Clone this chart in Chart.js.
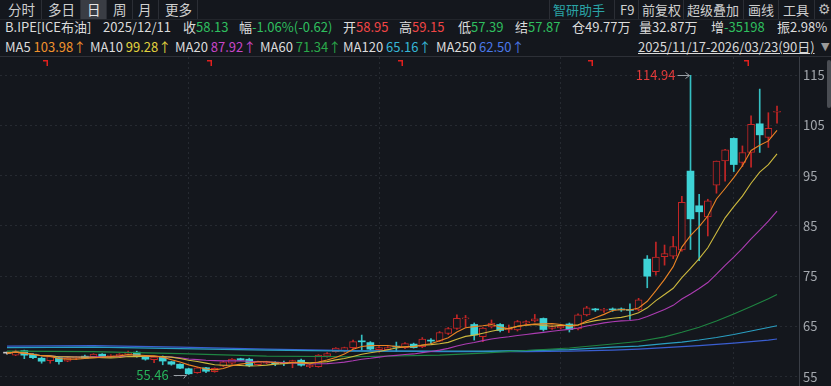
<!DOCTYPE html>
<html><head><meta charset="utf-8">
<script src="https://cdn.jsdelivr.net/npm/chart.js@4.4.1/dist/chart.umd.min.js"></script>
<style>
html,body{margin:0;padding:0;background:#14171d;width:831px;height:386px;overflow:hidden;font-family:"Noto Sans CJK SC","Noto Sans",sans-serif;color:#dcdcdc;}
.a{position:absolute;white-space:nowrap;}
#bar1{position:absolute;left:0;top:0;width:831px;height:19px;border-bottom:1px solid #22252b;}
.tab{position:absolute;top:0;height:19px;line-height:19px;font-size:13.5px;color:#cfcfcf;}
.sep{position:absolute;top:0;width:1px;height:19px;background:#2b2e35;}
.r2{position:absolute;top:18px;height:18px;line-height:18px;font-size:13px;white-space:nowrap;color:#dcdcdc;}
.r3{position:absolute;top:38px;height:18px;line-height:18px;font-size:13px;white-space:nowrap;color:#dcdcdc;}
.g{color:#2fbf5f}.rd{color:#f04545}
#wrap{position:absolute;left:0;top:57px;width:831px;height:329px;}
#topline{position:absolute;left:0;top:56px;width:831px;height:1px;background:#2d3037;}
#scroll{position:absolute;left:827px;top:60px;width:4px;height:48px;background:#4a4d53;border-radius:2px;}
</style></head>
<body>
<div id="bar1">
  <span class="tab" style="left:8px">分时</span>
  <div class="sep" style="left:41px"></div>
  <span class="tab" style="left:48px">多日</span>
  <div class="sep" style="left:80px"></div>
  <div style="position:absolute;left:81px;top:0;width:25px;height:19px;background:#3a3d44"></div>
  <span class="tab" style="left:87px;color:#e6e6e6">日</span>
  <div class="sep" style="left:106px"></div>
  <span class="tab" style="left:113px">周</span>
  <div class="sep" style="left:132px"></div>
  <span class="tab" style="left:138px">月</span>
  <div class="sep" style="left:158px"></div>
  <span class="tab" style="left:165px">更多</span>
  <div class="sep" style="left:197px"></div>
  <div class="sep" style="left:549px"></div>
  <span class="tab" style="left:553px;color:#2aa3a6;font-size:13px">智研助手</span>
  <div class="sep" style="left:614px"></div>
  <span class="tab" style="left:620px;font-size:13px">F9</span>
  <div class="sep" style="left:638px"></div>
  <span class="tab" style="left:642px;font-size:13px">前复权</span>
  <div class="sep" style="left:683px"></div>
  <span class="tab" style="left:687px;font-size:13px">超级叠加</span>
  <div class="sep" style="left:743px"></div>
  <span class="tab" style="left:748px;font-size:13px">画线</span>
  <div class="sep" style="left:778px"></div>
  <span class="tab" style="left:783px;font-size:13px">工具</span>
  <div class="sep" style="left:814px"></div>
  <span class="tab" style="left:818px;font-family:'DejaVu Sans';font-size:14px;color:#bbb">⚙</span>
</div>

<span class="r2" style="left:5px">B.IPE[ICE布油]</span>
<span class="r2" style="left:103px">2025/12/11</span>
<span class="r2" style="left:183px">收<span class="g">58.13</span></span>
<span class="r2" style="left:239px">幅<span class="g">-1.06%(-0.62)</span></span>
<span class="r2" style="left:343px">开<span class="rd">58.95</span></span>
<span class="r2" style="left:399px">高<span class="rd">59.15</span></span>
<span class="r2" style="left:458px">低<span class="g">57.39</span></span>
<span class="r2" style="left:515px">结<span class="g">57.87</span></span>
<span class="r2" style="left:572px">仓49.77万</span>
<span class="r2" style="left:639px">量32.87万</span>
<span class="r2" style="left:711px">增<span class="g">-35198</span></span>
<span class="r2" style="left:777px">振2.98%</span>

<span class="r3" style="left:5px">MA5 <span style="color:#f0922d">103.98↑</span></span>
<span class="r3" style="left:90px">MA10 <span style="color:#e2d23e">99.28↑</span></span>
<span class="r3" style="left:175px">MA20 <span style="color:#c846c8">87.92↑</span></span>
<span class="r3" style="left:260px">MA60 <span style="color:#2aa84a">71.34↑</span></span>
<span class="r3" style="left:343px">MA120 <span style="color:#36b6d6">65.16↑</span></span>
<span class="r3" style="left:436px">MA250 <span style="color:#4a78e8">62.50↑</span></span>
<span class="r3" style="left:638px;text-decoration:underline;color:#d8d8d8">2025/11/17-2026/03/23(90日)</span>
<span class="r3" style="left:821px;color:#9a9a9a;font-size:11px;font-family:'DejaVu Sans'">▼</span>

<div id="topline"></div>
<div id="wrap"><canvas id="c" width="831" height="329"></canvas></div>
<div id="scroll"></div>

<script>
// ---- data ----
const opens = [59.7,59.3,60.2,59.5,58.7,58.2,58.8,58.1,58.7,59.1, 59.0,59.5,59.0,59.1,59.5,59.9,58.9,58.4,58.95,58.0, 57.5,56.6,55.8,56.8,56.0,57.1,57.7,58.6,58.5,57.4, 57.7,57.9,57.8,57.7,58.3,57.0,57.0,59.1,60.0,60.1, 60.8,62.0,61.8,60.4,60.4,60.95,60.8,61.5,61.0,62.3, 62.1,63.6,64.6,66.5,65.4,63.0,64.9,65.4,64.3,64.3, 65.7,66.1,66.6,64.6,64.7,65.5,64.5,67.3,68.4,68.2, 68.4,68.4,68.3,68.3,78.4,75.9,78.9,79.0,80.2,95.9, 89.0,86.8,93.1,97.9,102.4,97.6,99.6,105.3,102.6,107.6];
const highs = [59.9,60.3,60.3,59.6,58.9,59.1,58.9,58.8,59.0,59.3, 59.6,59.6,59.4,59.6,60.1,60.1,59.0,59.0,59.15,58.1, 57.6,56.7,56.9,56.9,56.8,58.1,58.6,58.7,58.7,58.1, 58.1,58.0,58.1,58.3,58.5,57.4,59.4,59.8,60.8,60.9, 62.3,63.3,62.0,61.0,61.0,61.9,61.8,61.7,62.8,62.6, 64.0,64.8,67.3,67.2,65.7,64.8,66.3,65.6,65.3,66.2, 66.2,67.4,66.7,65.2,65.3,65.7,67.5,69.0,68.6,68.6, 68.7,68.7,69.5,70.6,79.1,81.8,81.2,82.9,90.9,114.94, 91.3,90.3,97.9,100.2,102.5,100.9,106.9,112.2,107.5,108.8];
const lows = [59.5,59.2,58.6,58.6,57.7,57.7,57.5,58.0,58.4,58.6, 58.9,58.8,58.9,59.0,59.4,58.9,58.3,57.8,57.39,57.3, 56.6,55.46,55.7,55.8,55.9,57.0,57.5,58.2,57.0,57.3, 57.6,57.2,57.2,56.8,57.1,56.8,56.9,58.9,59.9,59.9, 60.6,60.3,60.3,59.9,60.3,60.0,60.6,60.7,60.8,61.6, 62.0,63.4,64.4,64.9,62.3,62.0,64.7,63.9,63.8,64.1, 65.5,65.9,64.1,64.4,64.5,63.9,64.3,67.1,68.0,67.8, 68.0,68.0,66.4,68.1,72.7,75.2,77.2,78.5,80.0,80.3, 78.1,83.0,91.5,93.9,95.8,96.8,96.7,99.6,100.6,105.4];
const closes = [59.7,60.1,59.3,58.8,58.1,59.0,58.0,58.7,58.8,58.7, 59.5,58.9,59.2,59.5,59.9,59.0,58.5,58.9,58.13,57.5, 56.7,55.6,56.8,56.1,56.7,58.0,58.5,58.3,57.2,58.0, 58.0,57.6,57.6,58.2,57.3,57.3,59.3,59.6,60.7,60.8, 62.0,61.95,60.5,60.8,60.8,60.9,61.6,60.8,62.5,62.1, 63.8,64.6,66.6,66.6,63.3,64.7,65.7,64.2,64.7,66.0, 66.0,66.5,64.4,65.0,65.1,64.4,67.3,68.7,68.3,68.35, 68.3,68.3,68.2,70.3,75.0,78.8,79.5,80.9,89.7,86.4, 87.8,90.0,97.9,100.1,97.2,99.6,105.2,103.1,104.4,107.75];
// long moving averages at these bar indices
const maIdx     = [0,10,20,30,40,50,55,60,65,70,73,76,78,80,82,84,86,88,89];
const ma60Vals  = [60.1,60.0,59.6,59.1,59.0,59.3,59.7,60.24,60.74,61.52,62.01,62.94,63.84,64.84,66.10,67.50,68.98,70.51,71.34];
const ma120Vals = [60.8,60.9,60.6,60.3,60.1,60.1,60.1,60.2,60.4,60.9,61.1,61.6,61.9,62.3,62.8,63.4,64.1,64.8,65.16];
const ma250Vals = [61.1,61.2,60.9,60.5,60.2,60.0,60.0,60.0,60.1,60.3,60.5,60.8,61.0,61.2,61.45,61.7,62.0,62.3,62.50];
const yTickVals = [55,65,75,85,95,105,115];
const monthStartIdx = [10,32,54,74];
const flagIdx = [4.5,23.5,45.5,67.5,85.5];

// ---- styles ----
const BG='#14171d', UP='#c42626', DOWN='#3ed3d6', DOWNW='#35bfc2', FLAT='#c8c8c8';
const FONT='"Noto Sans CJK SC","Noto Sans",sans-serif';

function dir(i){return closes[i]>opens[i]?1:(closes[i]<opens[i]?-1:0);}
function ma(n){return closes.map((c,i)=>{const s=Math.max(0,i-n+1);const a=closes.slice(s,i+1);return {x:i,y:a.reduce((p,q)=>p+q,0)/a.length};});}
function pts(vals){return maIdx.map((x,k)=>({x:x,y:vals[k]}));}

const bodyData = closes.map((c,i)=>({x:i,y:[Math.min(opens[i],c),Math.max(opens[i],c)]}));
const wickData = closes.map((c,i)=>({x:i,y:[lows[i],highs[i]]}));

function lineDs(label,data,color){return {type:'line',label,data,borderColor:color,borderWidth:1.1,pointRadius:0,tension:0,order:0,parsing:true};}

const annot={
  id:'annot',
  afterDatasetsDraw(chart){
    const {ctx,scales:{x,y},chartArea}=chart;
    ctx.save();
    ctx.fillStyle='#e0201e';
    flagIdx.forEach(v=>{const px=Math.round(x.getPixelForValue(v));const t=chartArea.top+3;ctx.fillRect(px-3,t,5,1.5);ctx.fillRect(px+0.5,t,1.5,6);});
    ctx.font='13px '+FONT;ctx.textBaseline='middle';ctx.textAlign='right';
    ctx.strokeStyle='#9aa0a6';ctx.lineWidth=1;
    const hi=Math.max(...highs),hiI=highs.indexOf(hi);
    let px=x.getPixelForValue(hiI),py=Math.round(y.getPixelForValue(hi))+0.5;
    ctx.beginPath();ctx.moveTo(px-13,py);ctx.lineTo(px-1,py);ctx.moveTo(px-5,py-3);ctx.lineTo(px-1,py);ctx.lineTo(px-5,py+3);ctx.stroke();
    ctx.fillStyle='#e23a3a';ctx.fillText(hi.toFixed(2),px-15,py);
    const lo=Math.min(...lows),loI=lows.indexOf(lo);
    px=x.getPixelForValue(loI);py=Math.round(y.getPixelForValue(lo))+1.5;
    ctx.beginPath();ctx.moveTo(px-15,py);ctx.lineTo(px-2,py);ctx.moveTo(px-5,py+3);ctx.lineTo(px-2,py-1);ctx.stroke();
    ctx.fillStyle='#26b35a';ctx.fillText(lo.toFixed(2),px-20,py);
    ctx.restore();
  }
};

new Chart(document.getElementById('c'),{
  type:'bar',
  data:{datasets:[
    lineDs('MA5',ma(5),'#ea8424'),
    lineDs('MA10',ma(10),'#cdb93e'),
    lineDs('MA20',ma(20),'#ac3cb2'),
    lineDs('MA60',pts(ma60Vals),'#1f8542'),
    lineDs('MA120',pts(ma120Vals),'#2a9fc2'),
    lineDs('MA250',pts(ma250Vals),'#3a5ed0'),
    {type:'bar',label:'body',data:bodyData,order:1,grouped:false,barThickness:7,minBarLength:1,borderSkipped:false,
     backgroundColor:c=>{const d=dir(c.dataIndex);return d>0?BG:(d<0?DOWN:FLAT);},
     borderColor:c=>dir(c.dataIndex)>0?UP:'rgba(0,0,0,0)',
     borderWidth:c=>dir(c.dataIndex)>0?1:0},
    {type:'bar',label:'wick',data:wickData,order:2,grouped:false,barThickness:1,borderWidth:0,
     backgroundColor:c=>{const d=dir(c.dataIndex);return d>0?UP:(d<0?DOWNW:FLAT);}}
  ]},
  options:{
    responsive:false,animation:false,
    layout:{padding:0},
    plugins:{legend:{display:false},tooltip:{enabled:false}},
    scales:{
      x:{type:'linear',min:-0.809,max:91.54,offset:false,
         grid:{color:'#262a31',drawTicks:false},border:{display:false,dash:[2,3]},
         ticks:{display:false},
         afterBuildTicks:s=>{s.ticks=monthStartIdx.map(v=>({value:v}));},
         afterFit:s=>{s.height=0;}},
      y:{position:'right',min:53.17,max:118.58,
         grid:{color:'#262a31',drawTicks:false},border:{display:true,color:'#3a3e46',dash:[2,3]},
         ticks:{color:'#a3a7ad',font:{size:13,family:FONT},padding:4},
         afterBuildTicks:s=>{s.ticks=yTickVals.map(v=>({value:v}));},
         afterFit:s=>{s.width=32;s.paddingTop=0;s.paddingBottom=0;}}
    }
  },
  plugins:[annot]
});
</script>
</body></html>
